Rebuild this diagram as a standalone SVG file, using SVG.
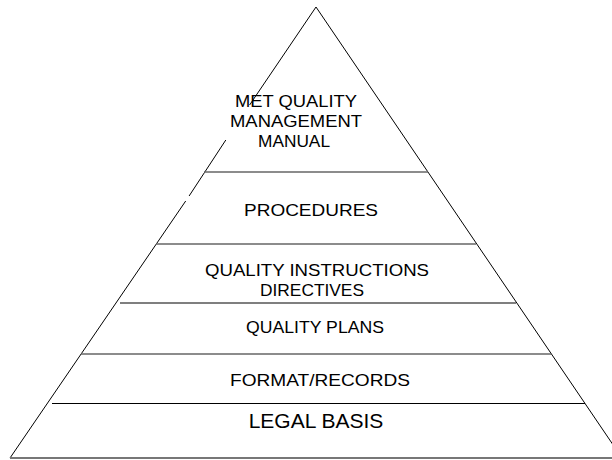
<svg xmlns="http://www.w3.org/2000/svg" width="612" height="460" viewBox="0 0 612 460">
<style>
.edge{stroke:#000;stroke-width:1;fill:none}
.dk{stroke:#000;stroke-width:1.2}
.gy{stroke:#666;stroke-width:1.5}
.base{stroke:#777;stroke-width:2}
text{font-family:"Liberation Sans",Arial,sans-serif;font-size:17px;fill:#000;text-anchor:middle}
</style>
<rect width="612" height="460" fill="#fff"/>
<g id="connectors">
<line class="edge" x1="316" y1="7" x2="249.6" y2="105"/>
<line class="edge" x1="225.8" y1="140" x2="189.1" y2="196"/>
<line class="edge" x1="185.7" y1="201" x2="10" y2="458"/>
<line class="edge" x1="316" y1="7" x2="622" y2="458"/>
<line class="gy" x1="204" y1="172" x2="428" y2="172"/>
<line class="gy" x1="156" y1="244" x2="476" y2="244"/>
<line class="dk" x1="120" y1="303" x2="516" y2="303"/>
<line class="gy" x1="81" y1="354" x2="551" y2="354"/>
<line class="dk" x1="52" y1="403.5" x2="585" y2="403.5"/>
<line class="base" x1="10" y1="458" x2="612" y2="458"/>
</g>
<g id="manual">
<text x="296" y="107" textLength="122" lengthAdjust="spacingAndGlyphs">MET QUALITY</text>
<text x="296" y="127" textLength="132" lengthAdjust="spacingAndGlyphs">MANAGEMENT</text>
<text x="294" y="147" textLength="72" lengthAdjust="spacingAndGlyphs">MANUAL</text>
</g>
<g id="procedures">
<text x="311" y="216" textLength="134" lengthAdjust="spacingAndGlyphs">PROCEDURES</text>
</g>
<g id="instructions">
<text x="317" y="276" textLength="224" lengthAdjust="spacingAndGlyphs">QUALITY INSTRUCTIONS</text>
<text x="312" y="296" textLength="104" lengthAdjust="spacingAndGlyphs">DIRECTIVES</text>
</g>
<g id="plans">
<text x="315" y="333" textLength="138" lengthAdjust="spacingAndGlyphs">QUALITY PLANS</text>
</g>
<g id="records">
<text x="320" y="386" textLength="180" lengthAdjust="spacingAndGlyphs">FORMAT/RECORDS</text>
</g>
<g id="legal">
<text x="316" y="428" style="font-size:21px">LEGAL BASIS</text>
</g>
</svg>
